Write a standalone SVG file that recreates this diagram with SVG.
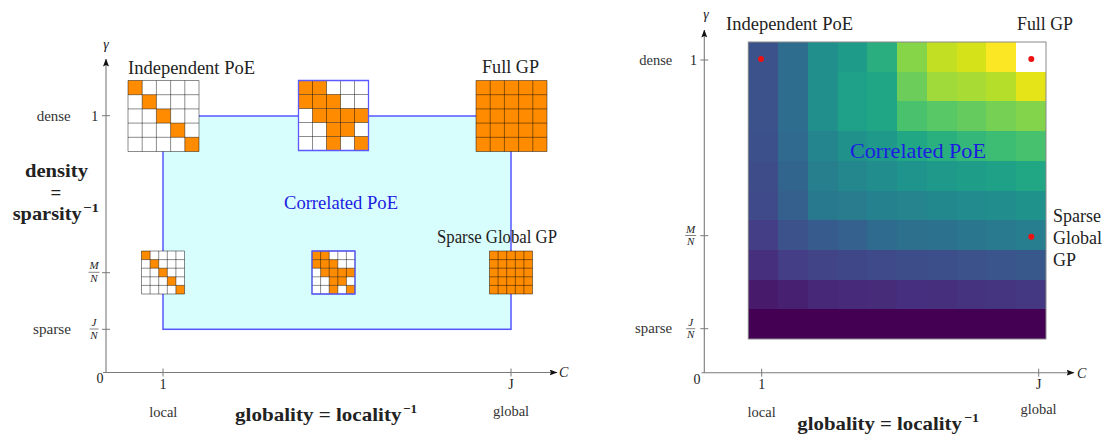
<svg xmlns="http://www.w3.org/2000/svg" xmlns:xlink="http://www.w3.org/1999/xlink" width="1104" height="435" viewBox="0 0 1104 435">
  <style>
    text { font-family: "Liberation Serif", "DejaVu Serif", serif; fill: #222; }
    .lbl { font-size: 18px; }
    .small { font-size: 14.5px; fill: #333; }
    .tick { font-size: 14px; }
    .it { font-style: italic; }
    .frac { font-size: 11px; font-style: italic; text-anchor: middle; }
    .bold { font-weight: bold; font-size: 19px; }
    .sup { font-weight: bold; font-size: 13px; }
    .mid { text-anchor: middle; }
    .axis { stroke: #7a7a7a; stroke-width: 1.1; fill: none; }
    .tk { stroke: #7a7a7a; stroke-width: 1; }
    .fbar { stroke: #333; stroke-width: 0.6; }
    .on { fill: #ff8c00; }
    .off { fill: #ffffff; }
    .gridln { stroke: #000; stroke-opacity: 0.45; stroke-width: 1; fill: none; }
    .blueedge { stroke: #5a5aff; stroke-width: 1.3; fill: none; }
    .corr { fill: #1c1ce0; }
    .dot { fill: #ee1111; }
  </style>
  <defs>
    <marker id="arrow" viewBox="0 0 8 6" refX="7.5" refY="3" markerWidth="8" markerHeight="6" markerUnits="userSpaceOnUse" orient="auto">
      <path d="M0,0 L8,3 L0,6 L1.5,3 z" fill="#111"/>
    </marker>
    <path id="grid5" class="gridln" vector-effect="non-scaling-stroke"
          d="M0 0H5M0 1H5M0 2H5M0 3H5M0 4H5M0 5H5M0 0V5M1 0V5M2 0V5M3 0V5M4 0V5M5 0V5"/>
    <rect id="edge5" class="blueedge" vector-effect="non-scaling-stroke" x="0" y="0" width="5" height="5"/>
  </defs>

  <!-- ===================== Left panel ===================== -->
  <!-- correlated region -->
  <g id="correlated-region">
    <rect x="163" y="116" width="348" height="213.3" fill="#d8fdfd" stroke="#5555ff" stroke-width="1.5"/>
    <text class="corr" x="284" y="209" font-size="19" textLength="114" lengthAdjust="spacingAndGlyphs">Correlated PoE</text>
  </g>

  <!-- axes -->
  <g id="left-axes">
    <line class="axis" x1="106" y1="372.5" x2="106" y2="59" marker-end="url(#arrow)"/>
    <line class="axis" x1="103" y1="372.5" x2="557" y2="372.5" marker-end="url(#arrow)"/>
    <line class="tk" x1="102" y1="115.7" x2="110" y2="115.7"/>
    <line class="tk" x1="102" y1="272.7" x2="110" y2="272.7"/>
    <line class="tk" x1="102" y1="329.3" x2="110" y2="329.3"/>
    <line class="tk" x1="163" y1="368.5" x2="163" y2="376.5"/>
    <line class="tk" x1="511" y1="368.5" x2="511" y2="376.5"/>
    <text class="tick it mid" x="106" y="49">γ</text>
    <text class="tick it" x="559" y="377" font-size="16">C</text>
    <text class="tick mid" x="100" y="383">0</text>
    <text class="tick mid" x="94.7" y="120.7">1</text>
    <text class="frac" x="94" y="269">M</text>
    <line class="fbar" x1="88.5" y1="272.3" x2="99.5" y2="272.3"/>
    <text class="frac" x="94" y="281.5">N</text>
    <text class="frac" x="94" y="326">J</text>
    <line class="fbar" x1="89.5" y1="329" x2="98.5" y2="329"/>
    <text class="frac" x="94" y="338.5">N</text>
    <text class="tick mid" x="163" y="389">1</text>
    <text class="tick mid" x="511" y="389">J</text>
    <text class="small" x="36.7" y="120.7" textLength="34" lengthAdjust="spacingAndGlyphs">dense</text>
    <text class="small" x="33" y="333.5" textLength="38" lengthAdjust="spacingAndGlyphs">sparse</text>
    <text class="small mid" x="163.3" y="417">local</text>
    <text class="small mid" x="511" y="416">global</text>
    <text class="bold" x="25" y="176.7" textLength="63" lengthAdjust="spacingAndGlyphs">density</text>
    <text class="bold mid" x="56" y="199">=</text>
    <text class="bold" x="12.7" y="220" textLength="69" lengthAdjust="spacingAndGlyphs">sparsity</text>
    <text class="sup" x="83" y="212" textLength="16" lengthAdjust="spacingAndGlyphs">−1</text>
    <text class="bold" x="235" y="421" textLength="166.5" lengthAdjust="spacingAndGlyphs">globality = locality</text>
    <text class="sup" x="403" y="413" textLength="14" lengthAdjust="spacingAndGlyphs">−1</text>
  </g>

  <!-- Independent PoE: diagonal pattern -->
  <g id="independent-poe">
    <g transform="translate(128,80.5) scale(14.2)">
      <rect class="off" width="5" height="5"/>
      <rect class="on" x="0" y="0" width="1" height="1"/>
      <rect class="on" x="1" y="1" width="1" height="1"/>
      <rect class="on" x="2" y="2" width="1" height="1"/>
      <rect class="on" x="3" y="3" width="1" height="1"/>
      <rect class="on" x="4" y="4" width="1" height="1"/>
      <use xlink:href="#grid5"/>
    </g>
    <text class="lbl" x="128" y="74.3" textLength="127" lengthAdjust="spacingAndGlyphs">Independent PoE</text>
  </g>

  <!-- Correlated PoE, dense -->
  <g id="correlated-dense">
    <g transform="translate(298.5,80.5) scale(14)">
      <rect class="off" width="5" height="5"/>
      <rect class="on" x="0" y="0" width="2" height="1"/>
      <rect class="on" x="0" y="1" width="3" height="1"/>
      <rect class="on" x="1" y="2" width="4" height="1"/>
      <rect class="on" x="2" y="3" width="2" height="1"/>
      <rect class="on" x="2" y="4" width="1" height="1"/>
      <rect class="on" x="4" y="4" width="1" height="1"/>
      <use xlink:href="#grid5"/>
      <use xlink:href="#edge5"/>
    </g>
  </g>

  <!-- Full GP -->
  <g id="full-gp">
    <g transform="translate(476,80.5) scale(14.2)">
      <rect class="on" width="5" height="5"/>
      <use xlink:href="#grid5"/>
    </g>
    <text class="lbl" x="482" y="73.3" textLength="57" lengthAdjust="spacingAndGlyphs">Full GP</text>
  </g>

  <!-- Independent PoE, sparse -->
  <g id="independent-sparse">
    <g transform="translate(141.5,251) scale(8.6)">
      <rect class="off" width="5" height="5"/>
      <rect class="on" x="0" y="0" width="1" height="1"/>
      <rect class="on" x="1" y="1" width="1" height="1"/>
      <rect class="on" x="2" y="2" width="1" height="1"/>
      <rect class="on" x="3" y="3" width="1" height="1"/>
      <rect class="on" x="4" y="4" width="1" height="1"/>
      <use xlink:href="#grid5"/>
    </g>
  </g>

  <!-- Correlated PoE, sparse -->
  <g id="correlated-sparse">
    <g transform="translate(312,251) scale(8.6)">
      <rect class="off" width="5" height="5"/>
      <rect class="on" x="0" y="0" width="2" height="1"/>
      <rect class="on" x="0" y="1" width="3" height="1"/>
      <rect class="on" x="1" y="2" width="4" height="1"/>
      <rect class="on" x="2" y="3" width="2" height="1"/>
      <rect class="on" x="2" y="4" width="1" height="1"/>
      <rect class="on" x="4" y="4" width="1" height="1"/>
      <use xlink:href="#grid5"/>
      <use xlink:href="#edge5"/>
    </g>
  </g>

  <!-- Sparse Global GP -->
  <g id="sparse-global-gp">
    <g transform="translate(489.5,251) scale(8.6)">
      <rect class="on" width="5" height="5"/>
      <use xlink:href="#grid5"/>
    </g>
    <text class="lbl" x="437" y="243.3" textLength="120" lengthAdjust="spacingAndGlyphs">Sparse Global GP</text>
  </g>

  <!-- ===================== Right panel ===================== -->
  <g id="heatmap">
    <g transform="translate(748.3,42) scale(29.77,29.7)" shape-rendering="crispEdges">
      <!-- row 0 -->
      <rect x="0" y="0" width="1" height="1" fill="#3b528b"/><rect x="1" y="0" width="1" height="1" fill="#2e6d8e"/><rect x="2" y="0" width="1" height="1" fill="#21908d"/><rect x="3" y="0" width="1" height="1" fill="#1f9b8a"/><rect x="4" y="0" width="1" height="1" fill="#2aae80"/><rect x="5" y="0" width="1" height="1" fill="#86d549"/><rect x="6" y="0" width="1" height="1" fill="#c2df23"/><rect x="7" y="0" width="1" height="1" fill="#d5e21a"/><rect x="8" y="0" width="1" height="1" fill="#fbe723"/><rect x="9" y="0" width="1" height="1" fill="#ffffff"/>
      <!-- row 1 -->
      <rect x="0" y="1" width="1" height="1" fill="#3b528b"/><rect x="1" y="1" width="1" height="1" fill="#2e6d8e"/><rect x="2" y="1" width="1" height="1" fill="#21908d"/><rect x="3" y="1" width="1" height="1" fill="#1fa088"/><rect x="4" y="1" width="1" height="1" fill="#21a685"/><rect x="5" y="1" width="1" height="1" fill="#6ccd5a"/><rect x="6" y="1" width="1" height="1" fill="#9fda3a"/><rect x="7" y="1" width="1" height="1" fill="#a8db34"/><rect x="8" y="1" width="1" height="1" fill="#b5de2b"/><rect x="9" y="1" width="1" height="1" fill="#e5e419"/>
      <!-- row 2 -->
      <rect x="0" y="2" width="1" height="1" fill="#3b528b"/><rect x="1" y="2" width="1" height="1" fill="#2e6d8e"/><rect x="2" y="2" width="1" height="1" fill="#21908d"/><rect x="3" y="2" width="1" height="1" fill="#1fa088"/><rect x="4" y="2" width="1" height="1" fill="#21a685"/><rect x="5" y="2" width="1" height="1" fill="#4ac16d"/><rect x="6" y="2" width="1" height="1" fill="#58c765"/><rect x="7" y="2" width="1" height="1" fill="#65cb5e"/><rect x="8" y="2" width="1" height="1" fill="#75d054"/><rect x="9" y="2" width="1" height="1" fill="#84d44b"/>
      <!-- row 3 -->
      <rect x="0" y="3" width="1" height="1" fill="#3c508b"/><rect x="1" y="3" width="1" height="1" fill="#306a8e"/><rect x="2" y="3" width="1" height="1" fill="#25858e"/><rect x="3" y="3" width="1" height="1" fill="#21918c"/><rect x="4" y="3" width="1" height="1" fill="#1f998a"/><rect x="5" y="3" width="1" height="1" fill="#22a785"/><rect x="6" y="3" width="1" height="1" fill="#2ab07f"/><rect x="7" y="3" width="1" height="1" fill="#35b779"/><rect x="8" y="3" width="1" height="1" fill="#3dbc74"/><rect x="9" y="3" width="1" height="1" fill="#48c16e"/>
      <!-- row 4 -->
      <rect x="0" y="4" width="1" height="1" fill="#3e4c8a"/><rect x="1" y="4" width="1" height="1" fill="#32658e"/><rect x="2" y="4" width="1" height="1" fill="#277f8e"/><rect x="3" y="4" width="1" height="1" fill="#24878e"/><rect x="4" y="4" width="1" height="1" fill="#218e8d"/><rect x="5" y="4" width="1" height="1" fill="#1f948c"/><rect x="6" y="4" width="1" height="1" fill="#1f9a8a"/><rect x="7" y="4" width="1" height="1" fill="#1e9d89"/><rect x="8" y="4" width="1" height="1" fill="#1fa188"/><rect x="9" y="4" width="1" height="1" fill="#22a785"/>
      <!-- row 5 -->
      <rect x="0" y="5" width="1" height="1" fill="#3f4a8a"/><rect x="1" y="5" width="1" height="1" fill="#355f8d"/><rect x="2" y="5" width="1" height="1" fill="#29798e"/><rect x="3" y="5" width="1" height="1" fill="#287c8e"/><rect x="4" y="5" width="1" height="1" fill="#26818e"/><rect x="5" y="5" width="1" height="1" fill="#25848e"/><rect x="6" y="5" width="1" height="1" fill="#23888e"/><rect x="7" y="5" width="1" height="1" fill="#228b8d"/><rect x="8" y="5" width="1" height="1" fill="#218e8d"/><rect x="9" y="5" width="1" height="1" fill="#20928c"/>
      <!-- row 6 -->
      <rect x="0" y="6" width="1" height="1" fill="#433e85"/><rect x="1" y="6" width="1" height="1" fill="#3b528b"/><rect x="2" y="6" width="1" height="1" fill="#375b8d"/><rect x="3" y="6" width="1" height="1" fill="#34618d"/><rect x="4" y="6" width="1" height="1" fill="#2f6b8e"/><rect x="5" y="6" width="1" height="1" fill="#2d708e"/><rect x="6" y="6" width="1" height="1" fill="#2c728e"/><rect x="7" y="6" width="1" height="1" fill="#2a768e"/><rect x="8" y="6" width="1" height="1" fill="#297a8e"/><rect x="9" y="6" width="1" height="1" fill="#277e8e"/>
      <!-- row 7 -->
      <rect x="0" y="7" width="1" height="1" fill="#46307e"/><rect x="1" y="7" width="1" height="1" fill="#433e85"/><rect x="2" y="7" width="1" height="1" fill="#414487"/><rect x="3" y="7" width="1" height="1" fill="#3f4788"/><rect x="4" y="7" width="1" height="1" fill="#3e4a89"/><rect x="5" y="7" width="1" height="1" fill="#3d4d8a"/><rect x="6" y="7" width="1" height="1" fill="#3c4f8a"/><rect x="7" y="7" width="1" height="1" fill="#3b528b"/><rect x="8" y="7" width="1" height="1" fill="#3a548c"/><rect x="9" y="7" width="1" height="1" fill="#38588c"/>
      <!-- row 8 -->
      <rect x="0" y="8" width="1" height="1" fill="#481a6c"/><rect x="1" y="8" width="1" height="1" fill="#482071"/><rect x="2" y="8" width="1" height="1" fill="#472777"/><rect x="3" y="8" width="1" height="1" fill="#472a7a"/><rect x="4" y="8" width="1" height="1" fill="#472c7a"/><rect x="5" y="8" width="1" height="1" fill="#462f7e"/><rect x="6" y="8" width="1" height="1" fill="#46307e"/><rect x="7" y="8" width="1" height="1" fill="#46337f"/><rect x="8" y="8" width="1" height="1" fill="#453581"/><rect x="9" y="8" width="1" height="1" fill="#453882"/>
      <!-- row 9 -->
      <rect x="0" y="9" width="10" height="1" fill="#440154"/>
    </g>
    <rect x="748.3" y="42" width="297.7" height="297" fill="none" stroke="#8a8a8a" stroke-width="1"/>
    <text class="corr" x="850" y="158" font-size="22" textLength="136" lengthAdjust="spacingAndGlyphs">Correlated PoE</text>
  </g>

  <g id="right-axes">
    <line class="axis" x1="704.3" y1="372.7" x2="704.3" y2="30" marker-end="url(#arrow)"/>
    <line class="axis" x1="701.5" y1="372.7" x2="1074" y2="372.7" marker-end="url(#arrow)"/>
    <line class="tk" x1="700.3" y1="60" x2="708.3" y2="60"/>
    <line class="tk" x1="700.3" y1="235.7" x2="708.3" y2="235.7"/>
    <line class="tk" x1="700.3" y1="328.7" x2="708.3" y2="328.7"/>
    <line class="tk" x1="761.7" y1="368.7" x2="761.7" y2="376.7"/>
    <line class="tk" x1="1038.7" y1="368.7" x2="1038.7" y2="376.7"/>
    <text class="tick it mid" x="706" y="19">γ</text>
    <text class="tick it" x="1077" y="377.5" font-size="16">C</text>
    <text class="tick mid" x="697" y="384">0</text>
    <text class="tick mid" x="693.5" y="65">1</text>
    <text class="frac" x="690.7" y="232.5">M</text>
    <line class="fbar" x1="685.2" y1="235.5" x2="696.2" y2="235.5"/>
    <text class="frac" x="690.7" y="245">N</text>
    <text class="frac" x="690.7" y="325.5">J</text>
    <line class="fbar" x1="686.2" y1="328.7" x2="695.2" y2="328.7"/>
    <text class="frac" x="690.7" y="338">N</text>
    <text class="tick mid" x="761.7" y="389">1</text>
    <text class="tick mid" x="1038.7" y="389">J</text>
    <text class="small" x="639.3" y="65" textLength="33" lengthAdjust="spacingAndGlyphs">dense</text>
    <text class="small" x="635" y="333" textLength="37" lengthAdjust="spacingAndGlyphs">sparse</text>
    <text class="small mid" x="761.7" y="417">local</text>
    <text class="small mid" x="1038.5" y="414">global</text>
    <text class="bold" x="797.3" y="429.5" textLength="164.5" lengthAdjust="spacingAndGlyphs">globality = locality</text>
    <text class="sup" x="964" y="421.5" textLength="15" lengthAdjust="spacingAndGlyphs">−1</text>
  </g>

  <g id="point-independent">
    <circle class="dot" cx="761" cy="59" r="3"/>
    <text class="lbl" x="726" y="30" textLength="127" lengthAdjust="spacingAndGlyphs">Independent PoE</text>
  </g>
  <g id="point-full-gp">
    <circle class="dot" cx="1031.3" cy="59" r="3"/>
    <text class="lbl" x="1017" y="30" textLength="56" lengthAdjust="spacingAndGlyphs">Full GP</text>
  </g>
  <g id="point-sparse-global">
    <circle class="dot" cx="1031.3" cy="236.7" r="3"/>
    <text class="lbl" x="1053" y="222">Sparse</text>
    <text class="lbl" x="1053" y="244">Global</text>
    <text class="lbl" x="1053" y="266">GP</text>
  </g>
</svg>
